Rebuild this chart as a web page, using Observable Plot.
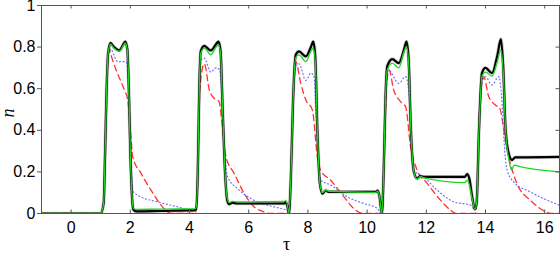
<!DOCTYPE html>
<html><head><meta charset="utf-8">
<script src="https://cdn.jsdelivr.net/npm/d3@7"></script>
<script src="https://cdn.jsdelivr.net/npm/@observablehq/plot@0.6"></script>
<style>
body{margin:0;background:#fff;}
#chart{position:relative;width:560px;height:253px;overflow:hidden;}
#chart svg{overflow:visible;}
.lab{position:absolute;color:#000;line-height:1;}
</style>
</head><body>
<div id="chart"></div>
<script>
const xTicks = [0,2,4,6,8,10,12,14,16];
const yTicks = [0,0.2,0.4,0.6,0.8,1];
const yTickLabels = ["0","0.2","0.4","0.6","0.8","1"];

const black = [[-1,0],[1.0,0],[1.1,0.05],[1.15,0.3],[1.2,0.6],[1.25,0.77],[1.33,0.82],[1.45,0.80],[1.63,0.784],[1.75,0.81],[1.83,0.827],[1.9,0.79],[1.95,0.6],[2.0,0.3],[2.05,0.1],[2.1,0.02],[2.2,0.01],[3.0,0.012],[4.0,0.015],[4.15,0.015],[4.22,0.02],[4.28,0.2],[4.33,0.6],[4.38,0.78],[4.5,0.806],[4.72,0.784],[4.9,0.815],[4.98,0.827],[5.05,0.78],[5.12,0.5],[5.2,0.2],[5.28,0.06],[5.34,0.045],[5.45,0.052],[5.6,0.048],[7.2,0.048],[7.25,0.055],[7.3,0.04],[7.36,0.0],[7.42,0.15],[7.5,0.55],[7.59,0.763],[7.7,0.779],[7.93,0.755],[8.1,0.8],[8.18,0.827],[8.25,0.75],[8.32,0.4],[8.4,0.15],[8.49,0.096],[8.6,0.11],[8.7,0.104],[10.3,0.104],[10.36,0.11],[10.42,0.08],[10.5,0.0],[10.56,0.2],[10.62,0.55],[10.68,0.707],[10.85,0.742],[11.07,0.723],[11.25,0.79],[11.33,0.827],[11.4,0.75],[11.48,0.4],[11.58,0.2],[11.69,0.169],[11.8,0.18],[11.9,0.176],[13.3,0.176],[13.38,0.19],[13.45,0.17],[13.55,0.08],[13.64,0.02],[13.7,0.05],[13.78,0.4],[13.88,0.675],[14.0,0.70],[14.22,0.675],[14.4,0.76],[14.52,0.838],[14.6,0.7],[14.68,0.4],[14.8,0.28],[14.9,0.257],[15.0,0.27],[15.1,0.27],[16.5,0.272]];

const green = [[-1,0],[1.0,0],[1.1,0.05],[1.15,0.3],[1.2,0.6],[1.25,0.77],[1.33,0.815],[1.45,0.795],[1.63,0.78],[1.75,0.805],[1.83,0.82],[1.9,0.785],[1.95,0.6],[2.0,0.3],[2.05,0.1],[2.1,0.025],[2.2,0.02],[3.0,0.021],[4.0,0.022],[4.15,0.022],[4.22,0.025],[4.28,0.2],[4.33,0.6],[4.38,0.77],[4.5,0.795],[4.72,0.763],[4.9,0.8],[4.98,0.81],[5.05,0.77],[5.12,0.5],[5.2,0.2],[5.28,0.07],[5.34,0.052],[5.45,0.058],[5.6,0.056],[7.2,0.058],[7.25,0.062],[7.3,0.045],[7.36,0.0],[7.42,0.15],[7.5,0.55],[7.59,0.75],[7.7,0.763],[7.93,0.73],[8.1,0.78],[8.18,0.795],[8.25,0.73],[8.32,0.4],[8.4,0.15],[8.49,0.1],[8.6,0.112],[8.7,0.107],[10.3,0.102],[10.36,0.108],[10.42,0.08],[10.5,0.0],[10.56,0.2],[10.62,0.55],[10.68,0.69],[10.85,0.723],[11.07,0.70],[11.25,0.78],[11.33,0.803],[11.4,0.73],[11.48,0.4],[11.58,0.2],[11.69,0.165],[11.8,0.178],[11.9,0.172],[13.3,0.148],[13.38,0.16],[13.45,0.14],[13.55,0.07],[13.64,0.02],[13.7,0.05],[13.78,0.4],[13.88,0.66],[14.0,0.68],[14.22,0.66],[14.4,0.73],[14.52,0.787],[14.6,0.68],[14.68,0.4],[14.8,0.25],[14.88,0.209],[14.97,0.233],[15.1,0.228],[16.5,0.2]];

const blue = [[-1,0],[1.0,0],[1.1,0.05],[1.15,0.3],[1.2,0.6],[1.27,0.77],[1.35,0.79],[1.45,0.76],[1.57,0.73],[1.85,0.73],[1.92,0.68],[1.97,0.5],[2.03,0.25],[2.08,0.11],[2.25,0.088],[2.92,0.056],[3.6,0.032],[4.05,0.016],[4.22,0.02],[4.28,0.2],[4.33,0.6],[4.4,0.74],[4.5,0.747],[4.72,0.68],[4.9,0.70],[5.02,0.69],[5.1,0.55],[5.2,0.28],[5.29,0.176],[5.62,0.12],[6.07,0.072],[6.63,0.04],[7.08,0.024],[7.3,0.015],[7.36,0.0],[7.42,0.15],[7.5,0.55],[7.6,0.71],[7.7,0.72],[7.93,0.64],[8.1,0.675],[8.2,0.66],[8.3,0.4],[8.43,0.16],[8.77,0.137],[9.33,0.08],[9.89,0.048],[10.34,0.025],[10.5,0.0],[10.56,0.2],[10.62,0.55],[10.72,0.69],[11.07,0.626],[11.3,0.658],[11.4,0.6],[11.5,0.35],[11.58,0.209],[11.92,0.176],[12.37,0.112],[12.93,0.056],[13.49,0.04],[13.64,0.02],[13.7,0.05],[13.78,0.4],[13.9,0.64],[14.0,0.658],[14.22,0.618],[14.45,0.658],[14.55,0.55],[14.65,0.3],[14.73,0.209],[14.95,0.152],[15.51,0.104],[16.08,0.064],[16.5,0.04]];

const red = [[-1,0],[1.0,0],[1.1,0.05],[1.15,0.3],[1.2,0.6],[1.25,0.76],[1.29,0.787],[1.35,0.76],[1.52,0.69],[1.8,0.594],[1.91,0.547],[2.0,0.417],[2.08,0.273],[2.36,0.194],[2.7,0.112],[3.04,0.04],[3.26,0.008],[3.4,0],[4.2,0],[4.28,0.2],[4.35,0.6],[4.5,0.72],[4.67,0.594],[4.83,0.554],[5.0,0.538],[5.11,0.417],[5.23,0.273],[5.51,0.193],[5.85,0.096],[6.18,0.032],[6.52,0.008],[6.7,0],[7.36,0],[7.42,0.15],[7.52,0.6],[7.59,0.73],[7.76,0.626],[7.93,0.546],[8.15,0.498],[8.32,0.273],[8.43,0.209],[8.77,0.16],[9.22,0.08],[9.55,0.024],[9.89,0],[10.5,0],[10.58,0.3],[10.66,0.62],[10.74,0.69],[10.9,0.594],[11.13,0.538],[11.3,0.514],[11.47,0.32],[11.69,0.209],[12.03,0.145],[12.48,0.064],[12.82,0.016],[13.0,0],[13.66,0],[13.72,0.1],[13.8,0.5],[13.94,0.658],[14.11,0.562],[14.33,0.522],[14.48,0.506],[14.67,0.353],[14.84,0.241],[15.06,0.145],[15.51,0.064],[16.02,0.01],[16.2,0],[16.5,0]];

const W = 560, H = 253, mL = 41, mR = 1, mT = 5, mB = 40;
const innerW = W - mL - mR, innerH = H - mT - mB;
const X = d => d[0], Y = d => d[1];
const fmt = d => yTickLabels[yTicks.indexOf(d)];

const plot = Plot.plot({
  width: W, height: H,
  marginLeft: mL, marginRight: mR, marginTop: mT, marginBottom: mB,
  x: {domain: [-1, 16.5]},
  y: {domain: [0, 1]},
  style: {fontFamily: "'Liberation Sans', Arial, sans-serif", fontSize: "16px", background: "#fff", color: "#000", overflow: "visible"},
  marks: [
    Plot.line(black, {x: X, y: Y, stroke: "#cfcfcf", strokeWidth: 3.6, curve: "monotone-x", clip: true}),
    Plot.line(red, {x: X, y: Y, stroke: "#ff3030", strokeWidth: 1.3, strokeDasharray: "6,4", curve: "monotone-x", clip: true}),
    Plot.line(blue, {x: X, y: Y, stroke: "#7070ff", strokeWidth: 1.2, strokeDasharray: "1,2.6", curve: "monotone-x", clip: true}),
    Plot.line(black, {x: X, y: Y, stroke: "#000", strokeWidth: 2.2, curve: "monotone-x", clip: true}),
    Plot.line(green, {x: X, y: Y, stroke: "#22d422", strokeWidth: 1.3, curve: "monotone-x", clip: true}),
    Plot.frame({stroke: "#555", strokeWidth: 1}),
    Plot.tickX(xTicks, {x: d => d, stroke: "#555", insetTop: innerH - 3.5}),
    Plot.tickX(xTicks, {x: d => d, stroke: "#555", insetBottom: innerH - 3.5}),
    Plot.tickY(yTicks, {y: d => d, stroke: "#555", insetLeft: innerW - 3.5}),
    Plot.axisX({ticks: xTicks, tickSize: 0, tickPadding: 8, label: null, stroke: "#555", fontSize: 16}),
    Plot.axisY({ticks: yTicks, tickSize: 4, tickPadding: 2, tickFormat: fmt, label: null, stroke: "#555", fontSize: 16})
  ]
});
const c = document.getElementById("chart");
c.appendChild(plot);
const tau = document.createElement("div");
tau.className = "lab";
tau.textContent = "τ";
tau.style.cssText = "left:283px;top:235px;font-family:'Liberation Serif','DejaVu Serif',serif;font-size:18px;";
c.appendChild(tau);
const n = document.createElement("div");
n.className = "lab";
n.textContent = "n";
n.style.cssText = "left:3px;top:104px;font-family:'Liberation Serif','DejaVu Serif',serif;font-style:italic;font-size:18px;transform:rotate(-90deg);transform-origin:50% 50%;";
c.appendChild(n);
</script>
</body></html>
